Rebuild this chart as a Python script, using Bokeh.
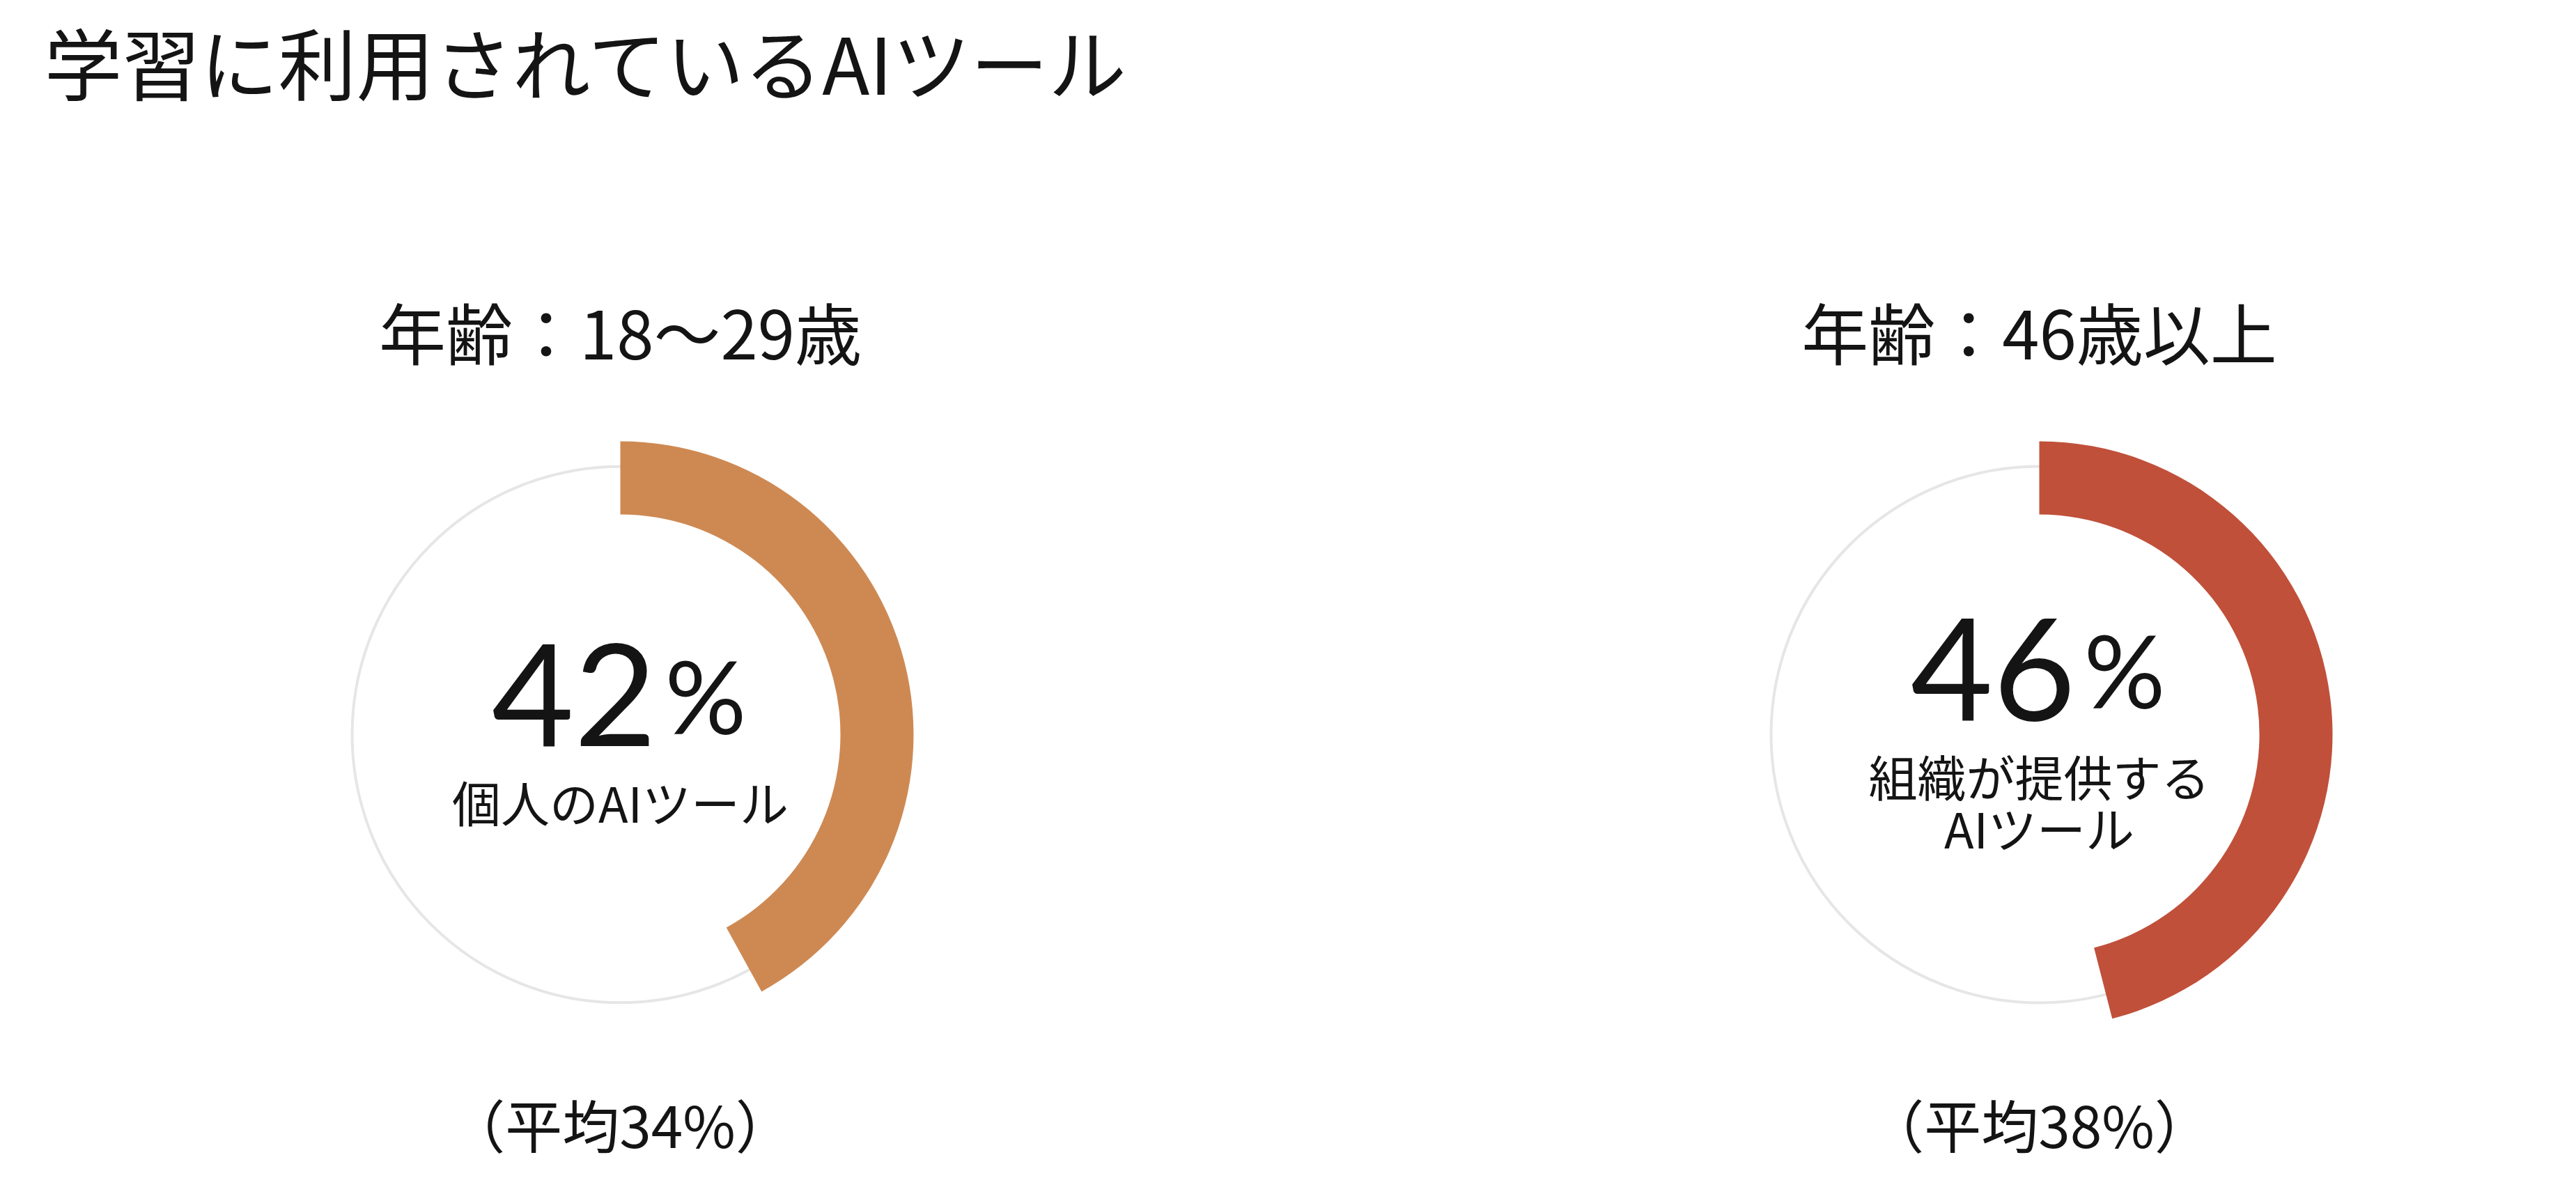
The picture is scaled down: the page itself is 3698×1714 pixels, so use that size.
import math
from bokeh.plotting import figure
from bokeh.models import Range1d, ColumnDataSource
from bokeh.core.properties import value
from bokeh.embed import file_html
from bokeh.resources import INLINE

# data
title = "学習に利用されているAIツール"
groups = ["年齢：18～29歳", "年齢：46歳以上"]
shares = [42, 46]
labels = ["個人のAIツール", "組織が提供する\nAIツール"]
averages = [34, 38]
colors = ["#CE8953", "#C0503A"]

# layout (page pixel space, y measured from the top)
W, H = 3680, 1696
centers_x = [898, 2935]
center_y = 1054
R_OUT, R_IN, R_RING = 421, 316, 385
FONT = value("Noto Sans CJK JP")
NUM_FONT = value("Lato")
INK = "#141414"


def Y(img_y):
    # convert top-down page pixels to data y
    return H + 8 - img_y


n_lines = [lab.count("\n") + 1 for lab in labels]
src = ColumnDataSource(data=dict(
    cx=centers_x,
    cy=[Y(center_y)] * len(shares),
    start=[math.pi / 2] * len(shares),
    end=[math.pi / 2 - 2 * math.pi * v / 100 for v in shares],
    color=colors,
    num=[str(v) for v in shares],
    pct=["%"] * len(shares),
    num_x=[x + 52 for x in centers_x],
    pct_x=[x + 64 for x in centers_x],
    num_y=[Y(center_y + 18 - 75 - (n - 1) * 37) for n in n_lines],
    label=labels,
    label_y=[Y(center_y + 96)] * len(shares),
    group=groups,
    group_y=[Y(474)] * len(shares),
    avg=[f"（平均{a}%）" for a in averages],
    avg_y=[Y(1612)] * len(shares),
))

p = figure(width=W, height=H, output_backend="svg", toolbar_location=None,
           x_range=Range1d(8, 8 + W), y_range=Range1d(8, 8 + H),
           min_border=0, outline_line_color=None)
p.axis.visible = False
p.grid.visible = False
p.background_fill_color = "white"
p.border_fill_color = "white"

# background ring + value arc
p.circle("cx", "cy", radius=R_RING, radius_units="screen", source=src,
         fill_color=None, line_color="#E6E6E6", line_width=4)
p.annular_wedge("cx", "cy", inner_radius=R_IN, outer_radius=R_OUT,
                inner_radius_units="screen", outer_radius_units="screen",
                start_angle="start", end_angle="end", direction="clock",
                fill_color="color", line_color=None, source=src)

# big number and percent sign
p.text("num_x", "num_y", text="num", source=src, text_font=NUM_FONT,
       text_font_size="204px", text_color=INK, text_align="right",
       text_baseline="alphabetic")
p.text("pct_x", "num_y", text="pct", source=src, text_font=NUM_FONT,
       text_font_size="146px", text_color=INK, text_align="left",
       text_baseline="alphabetic")

# label inside the donut
p.text("cx", "label_y", text="label", source=src, text_font=FONT,
       text_font_size="70px", text_color=INK, text_align="center",
       text_baseline="middle", text_line_height=0.73)

# group heading and average
p.text("cx", "group_y", text="group", source=src, text_font=FONT,
       text_font_size="96px", text_color=INK, text_align="center",
       text_baseline="middle")
p.text("cx", "avg_y", text="avg", source=src, text_font=FONT,
       text_font_size="82px", text_color=INK, text_align="center",
       text_baseline="middle")

# chart title
p.text(x=[71], y=[Y(86)], text=[title], text_font=FONT,
       text_font_size="112px", text_color=INK, text_align="left",
       text_baseline="middle")

open("out.html", "w").write(file_html(p, INLINE))
